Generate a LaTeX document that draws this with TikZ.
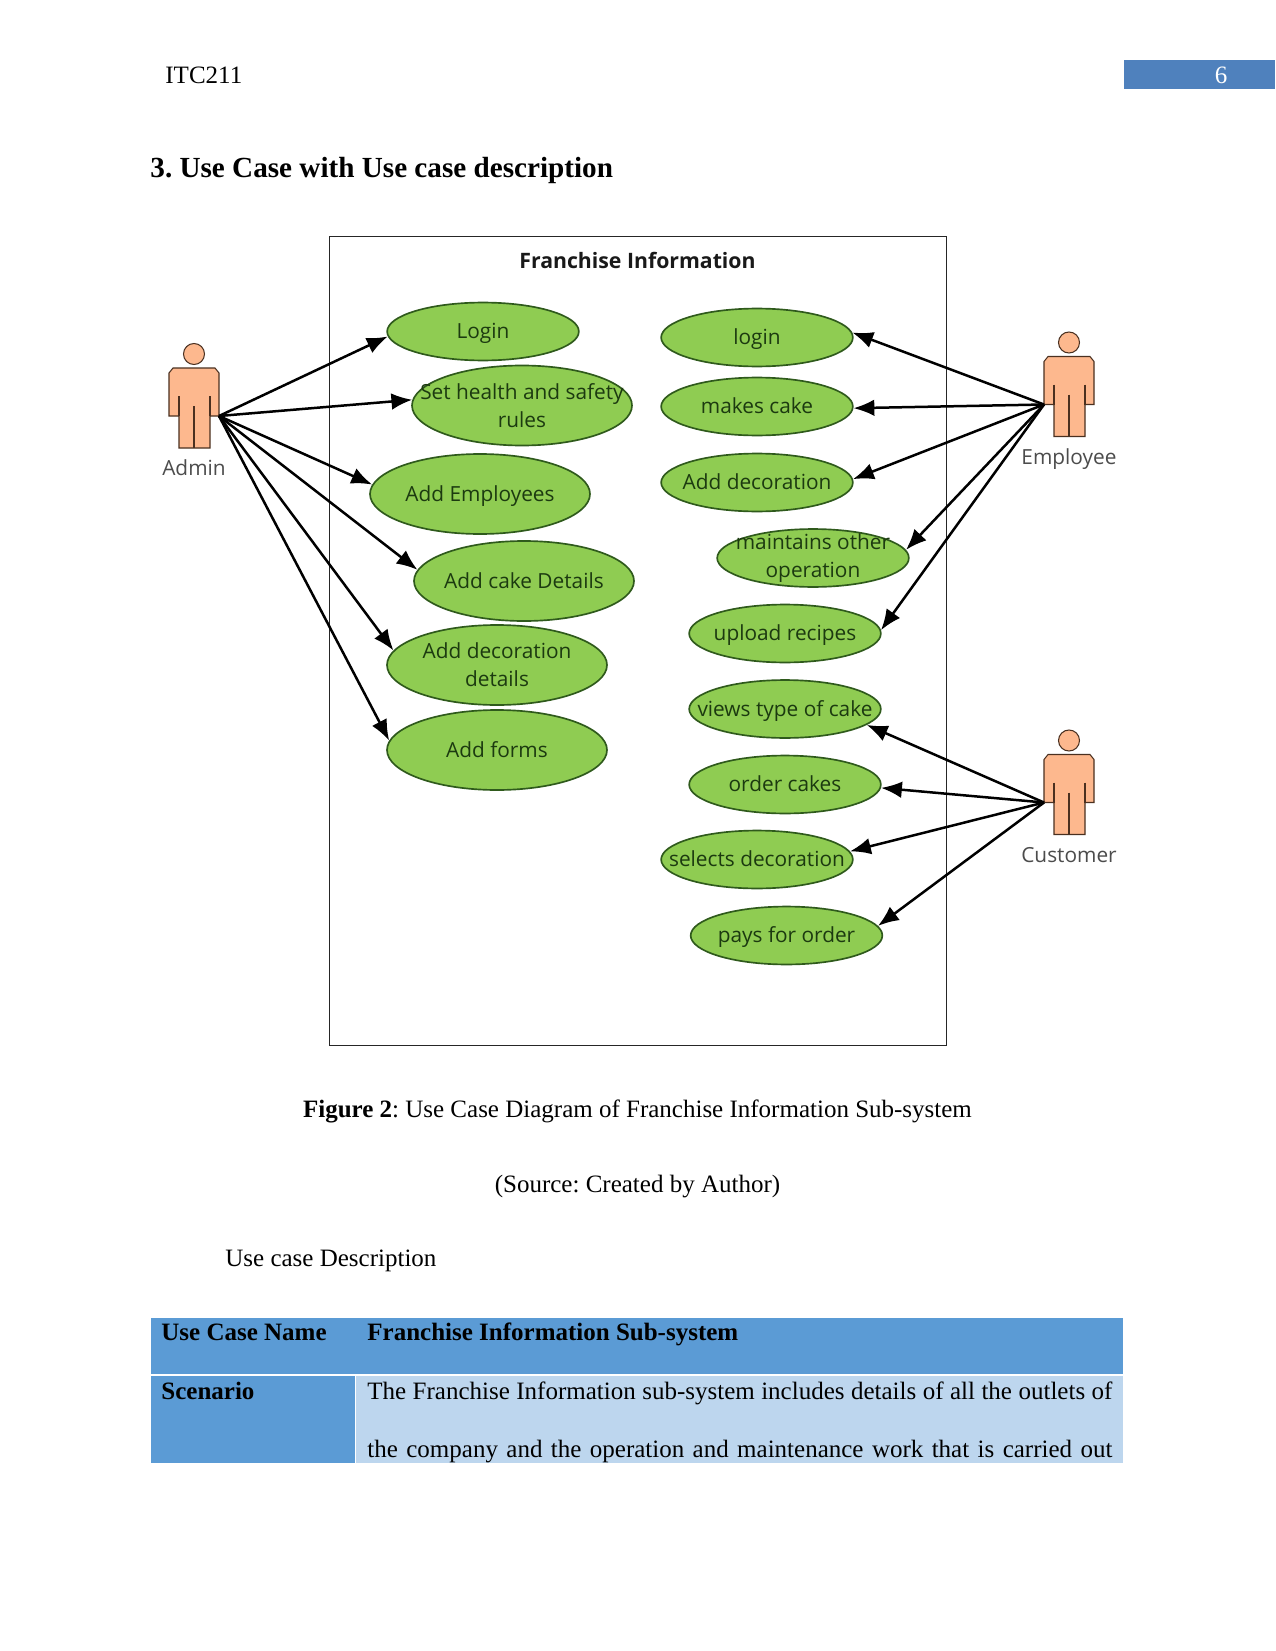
\documentclass[tikz,border=0pt]{standalone}
\usepackage{fontspec}
\setmainfont{Liberation Serif}
\newfontfamily\ucfont{Open Sans}
\usetikzlibrary{arrows.meta, shapes.geometric}
\frenchspacing
\definecolor{ucgreen}{HTML}{8FCC52}
\definecolor{ucedge}{HTML}{2F5A1C}
\definecolor{uctextc}{HTML}{1C3A10}
\definecolor{actorfill}{HTML}{FDB88E}
\definecolor{actoredge}{HTML}{4A3020}
\definecolor{pagebar}{HTML}{4F81BD}
\definecolor{tabledark}{HTML}{5B9BD5}
\definecolor{tablelight}{HTML}{BDD6EE}
\tikzset{
  ucase/.style={ellipse, draw=ucedge, thick, fill=ucgreen, inner sep=0pt, minimum width=92pt, minimum height=27.8pt},
  ucbig/.style={ucase, minimum width=105.6pt, minimum height=38.4pt},
  uctext/.style={font=\ucfont\fontsize{10}{13.4}\selectfont, text=uctextc, align=center, inner sep=0pt},
  ucline/.style={uctext, text height=9.5pt, text depth=2.5pt},
  actorlabel/.style={anchor=base, font=\ucfont\fontsize{10}{12}\selectfont, text=black!70, inner sep=0pt},
  assoc/.style={line width=1.2pt, -{Latex[length=10pt,width=8pt]}},
  pagetext/.style={anchor=base west, inner sep=0pt, font=\fontsize{12}{14}\selectfont},
  cellhead/.style={pagetext, font=\bfseries\fontsize{12}{14}\selectfont}
}
\begin{document}
\begin{tikzpicture}[x=0.48pt, y=-0.48pt]
      \fill[white] (0,0) rectangle (1275,1651);
      \useasboundingbox (0,0) rectangle (1275,1651);

      % Running header
      \node[pagetext] (header) at (165,83.5) {ITC211};
      \fill[pagebar] (1124,60) rectangle (1275,89.5);
      \node[pagetext, anchor=base, text=white] (pagenum) at (1221,83.5) {6};
      \node[pagetext, font=\bfseries\fontsize{14}{16}\selectfont] (heading) at (150,177.5) {3. Use Case with Use case description};

      % Box for the system
      \draw[line width=0.45pt, black!85] (329.5,236) rectangle (946.5,1045.5);
      \node[font=\ucfont\bfseries\fontsize{10.2}{12}\selectfont, text=black!90, inner sep=0pt] (systitle) at (637.5,260) {Franchise Information};

      % Left column of use cases
      \node[ucase, label={[ucline]center:Login}] (adminlogin) at (483,331.5) {};
      \node[ucbig, label={[uctext]center:{Set health and safety\\rules}}] (healthrules) at (522,405.5) {};
      \node[ucbig, label={[ucline]center:Add Employees}] (addemp) at (480,494) {};
      \node[ucbig, label={[ucline]center:Add cake Details}] (addcake) at (524,581) {};
      \node[ucbig, label={[uctext]center:{Add decoration\\details}}] (adddecor) at (497,665) {};
      \node[ucbig, label={[ucline]center:Add forms}] (addforms) at (497,750) {};

      % Right column of use cases
      \node[ucase, label={[ucline]center:login}] (emplogin) at (757,337.5) {};
      \node[ucase, label={[ucline]center:makes cake}] (makescake) at (757,406.5) {};
      \node[ucase, label={[ucline]center:Add decoration}] (empdecor) at (757,482.5) {};
      \node[ucase, label={[uctext]center:{maintains other\\operation}}] (maintains) at (813,558) {};
      \node[ucase, label={[ucline]center:upload recipes}] (upload) at (785,633.5) {};
      \node[ucase, label={[ucline]center:views type of cake}] (viewscake) at (785,709) {};
      \node[ucase, label={[ucline]center:order cakes}] (ordercakes) at (785,784.5) {};
      \node[ucase, label={[ucline]center:selects decoration}] (selects) at (757,859.5) {};
      \node[ucase, label={[ucline]center:pays for order}] (pays) at (786.5,935.5) {};

      % Actors, head centre at the given point
      \foreach \actname/\ax/\ay/\handx/\actlabel in {admin/194/354/25/Admin, employee/1069/342.5/-25/Employee, customer/1069/740.5/-25/Customer} {
        \begin{scope}[shift={(\ax,\ay)}]
          \draw[actoredge, fill=actorfill, line width=0.5pt] (0,0) circle (10.5);
          \draw[actoredge, fill=actorfill, line width=0.5pt]
            (-21,14) -- (21,14) -- (25,19) -- (25,62) -- (16,62) -- (16,94) -- (-15,94) -- (-15,62) -- (-25,62) -- (-25,19) -- cycle;
          \draw[actoredge, line width=0.5pt] (-15,42) -- (-15,62) (16,42) -- (16,62) (0,52) -- (0,94);
          \coordinate (\actname hand) at (\handx,62);
          \node[actorlabel] (\actname label) at (0,121.5) {\actlabel};
        \end{scope}
      }

      % Associations
      \foreach \ucname/\ang in {adminlogin/183, healthrules/177, addemp/175, addcake/174, adddecor/172, addforms/175}
        \draw[assoc] (adminhand) -- (\ucname.\ang);
      \foreach \ucname/\ang in {emplogin/3, makescake/-1, empdecor/2, maintains/5, upload/2}
        \draw[assoc] (employeehand) -- (\ucname.\ang);
      \foreach \ucname/\ang in {viewscake/-11, ordercakes/-2, selects/5, pays/6}
        \draw[assoc] (customerhand) -- (\ucname.\ang);

      % Caption lines
      \node[pagetext, anchor=base] (caption) at (637.5,1117) {\textbf{Figure 2}: Use Case Diagram of Franchise Information Sub-system};
      \node[pagetext, anchor=base] (source) at (637.5,1192.5) {(Source: Created by Author)};
      \node[pagetext] (desctitle) at (225,1266) {Use case Description};

      % Description table
      \fill[tabledark] (151,1318) rectangle (1123,1374);
      \fill[tabledark] (151,1376) rectangle (354.5,1462.5);
      \fill[tablelight] (356,1376) rectangle (1123,1462.5);
      \node[cellhead] (namehead) at (161,1340) {Use Case Name};
      \node[cellhead] (namecell) at (367,1340) {Franchise Information Sub-system};
      \node[cellhead] (scenhead) at (161,1399) {Scenario};
      \node[pagetext] (scenone) at (367,1399) {\makebox[357.6pt][s]{The Franchise Information sub-system includes details of all the outlets of}};
      \node[pagetext] (scentwo) at (367,1457) {\makebox[357.6pt][s]{the company and the operation and maintenance work that is carried out}};
\end{tikzpicture}
\end{document}
